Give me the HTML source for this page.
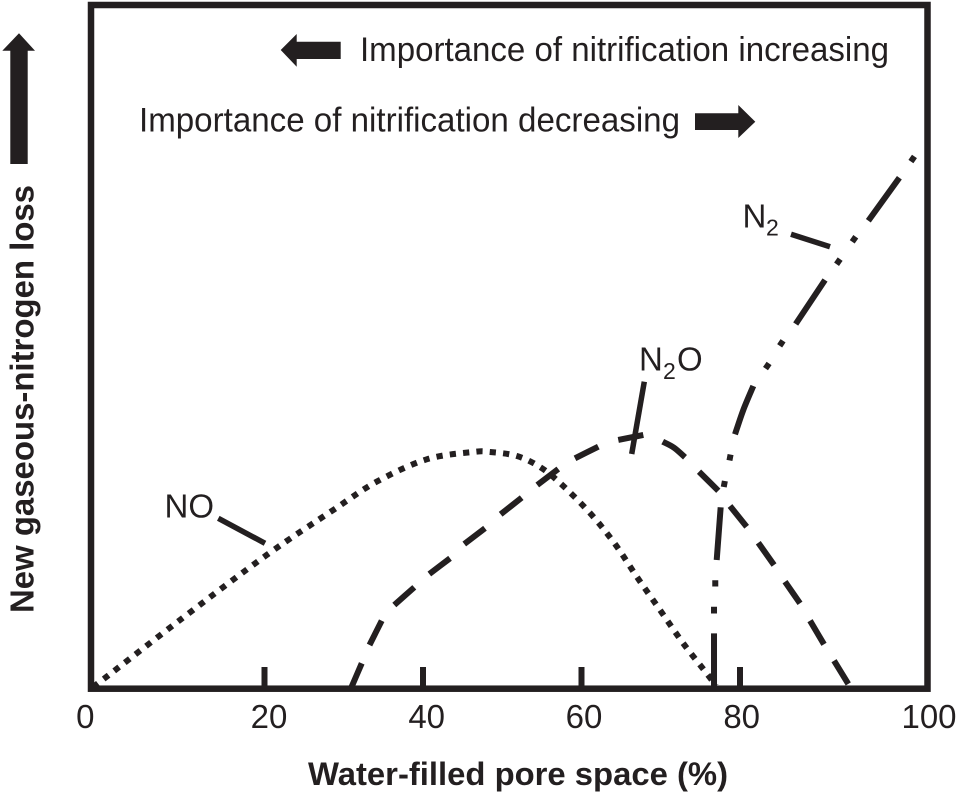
<!DOCTYPE html>
<html lang="en">
<head>
<meta charset="utf-8">
<title>Gaseous nitrogen loss vs water-filled pore space</title>
<style>
html,body{margin:0;padding:0;background:#fff;}
svg{display:block;}
text{font-family:"Liberation Sans",sans-serif;fill:#231f20;}
</style>
</head>
<body>
<svg id="chart" xmlns="http://www.w3.org/2000/svg" width="957" height="795" viewBox="0 0 957 795">
  <rect x="91" y="5" width="836.5" height="683.7" fill="none" stroke="#231f20" stroke-width="6.5"/>

  <g id="ticks"></g>
  <g id="tick-labels"></g>
  <g id="series"></g>

  <text x="308" y="785" font-size="32" font-weight="bold" textLength="420" lengthAdjust="spacingAndGlyphs">Water-filled pore space (%)</text>
  <text transform="translate(33.5,613) rotate(-90)" font-size="33" font-weight="bold" textLength="428" lengthAdjust="spacingAndGlyphs">New gaseous-nitrogen loss</text>
  <polygon points="19,33.3 35,50.7 27.7,50.7 27.7,164 10.3,164 10.3,50.7 2.3,50.7" fill="#231f20"/>

  <polygon points="280.7,50 296.7,34 296.7,41.7 340.7,41.7 340.7,59 296.7,59 296.7,66.7" fill="#231f20"/>
  <text x="360" y="61" font-size="34" textLength="529" lengthAdjust="spacingAndGlyphs">Importance of nitrification increasing</text>
  <text x="139" y="131.7" font-size="34" textLength="541" lengthAdjust="spacingAndGlyphs">Importance of nitrification decreasing</text>
  <polygon points="755.3,121.7 738.3,105 738.3,113.3 695,113.3 695,130 738.3,130 738.3,138" fill="#231f20"/>

  <text x="164.5" y="517.3" font-size="33">NO</text>
  <line x1="218.3" y1="518.3" x2="265" y2="543.3" stroke="#231f20" stroke-width="5.5"/>

  <text y="370.7" font-size="33"><tspan x="639">N</tspan><tspan x="663" y="379" font-size="23">2</tspan><tspan x="677" y="370.7">O</tspan></text>
  <line x1="644.3" y1="381.7" x2="631.7" y2="454" stroke="#231f20" stroke-width="5.5"/>

  <text y="227.7" font-size="33"><tspan x="742.5">N</tspan><tspan x="766" y="235.7" font-size="23">2</tspan></text>
  <line x1="791" y1="234.3" x2="830" y2="246.7" stroke="#231f20" stroke-width="5.5"/>
</svg>

<script>
// X axis
const tickValues = [20, 40, 60, 80];
const tickLabels = [0, 20, 40, 60, 80, 100];

// NO series (dotted curve): water-filled pore space %, relative loss
const noX = [0.23, 1.81, 10.26, 20.28, 28.68, 34.16, 40.47, 46.31, 48.45, 51.86, 54.76, 57.29, 61.07, 64.23, 67.0, 69.91, 72.81, 75.96, 76.97];
const noY = [0.25, 1.76, 10.05, 19.56, 26.14, 30.28, 33.55, 34.62, 34.62, 34.03, 32.43, 30.09, 25.7, 21.16, 16.34, 11.51, 6.68, 2.0, 0.4];

// N2O series (dashed curve): null marks a printed gap between dashes
const n2oX = [31.0, 32.27, null, 33.25, 34.79, null, 36.38, 38.9, null, 40.8, 43.41, null, 45.21, 47.82, null, 49.8, 52.45, null, 54.42, 57.07, null, 59.18, 62.12, null, 64.64, 67.8, null, 70.25, 71.67, 73.06, null, 74.83, 77.26, null, 78.74, 80.71, null, 81.95, 83.63, null, 84.8, 86.4, null, 87.47, 88.96, null, 90.03, 91.55];
const n2oY = [0.29, 3.72, null, 6.39, 9.95, null, 12.24, 14.83, null, 16.78, 19.07, null, 21.16, 23.46, null, 25.51, 27.94, null, 29.79, 32.13, null, 33.7, 35.4, null, 36.38, 37.11, null, 36.13, 35.25, 33.85, null, 31.74, 28.96, null, 26.72, 23.69, null, 21.35, 18.09, null, 15.65, 12.49, null, 9.95, 6.49, null, 4.1, 0.69];

// N2 series (dash-dot-dot curve): null marks a printed gap
const n2X = [76.72, 76.72, null, 76.72, 76.72, null, 76.88, 76.88, null, 77.06, 77.56, null, 77.95, 78.09, null, 78.67, 78.81, null, 79.37, 80.35, 81.42, null, 82.72, 83.1, null, 84.23, 84.59, null, 85.94, 89.07, null, 90.3, 90.68, null, 91.97, 92.35, null, 93.69, 97.0, null, 98.23, 98.61];
const n2Y = [0.29, 8.1, null, 11.0, 11.98, null, 14.95, 15.87, null, 18.82, 26.53, null, 29.5, 30.38, null, 33.38, 34.25, null, 37.21, 40.76, 44.27, null, 46.82, 47.57, null, 50.15, 50.89, null, 53.34, 59.78, null, 62.08, 62.83, null, 65.36, 66.1, null, 68.45, 74.74, null, 77.1, 77.85];

const SVG_NS = 'http://www.w3.org/2000/svg';

// The printed axis is not evenly spaced at its ends, so the scale is piecewise linear.
function xScale(v) {
  if (v <= 20) return 91 + (264.5 - 91) * v / 20;
  if (v <= 80) return 264.5 + (740 - 264.5) * (v - 20) / 60;
  return 740 + (927.5 - 740) * (v - 80) / 20;
}
function yScale(v) {
  return 688.7 - v * 6.837;
}
// Catmull-Rom smoothing within each unbroken run of points.
function smoothRun(pts) {
  let d = 'M' + pts[0][0].toFixed(2) + ' ' + pts[0][1].toFixed(2);
  for (let i = 0; i < pts.length - 1; i++) {
    const p0 = pts[Math.max(i - 1, 0)];
    const p1 = pts[i];
    const p2 = pts[i + 1];
    const p3 = pts[Math.min(i + 2, pts.length - 1)];
    const c1x = p1[0] + (p2[0] - p0[0]) / 6;
    const c1y = p1[1] + (p2[1] - p0[1]) / 6;
    const c2x = p2[0] - (p3[0] - p1[0]) / 6;
    const c2y = p2[1] - (p3[1] - p1[1]) / 6;
    d += 'C' + c1x.toFixed(2) + ' ' + c1y.toFixed(2) + ' ' + c2x.toFixed(2) + ' ' + c2y.toFixed(2) + ' ' + p2[0].toFixed(2) + ' ' + p2[1].toFixed(2);
  }
  return d;
}
function buildPath(xs, ys) {
  let d = '';
  let run = [];
  for (let i = 0; i <= xs.length; i++) {
    if (i === xs.length || xs[i] === null || ys[i] === null) {
      if (run.length > 1) d += smoothRun(run);
      run = [];
      continue;
    }
    run.push([xScale(xs[i]), yScale(ys[i])]);
  }
  return d;
}

const tickGroup = document.getElementById('ticks');
tickValues.forEach(function (v) {
  const tick = document.createElementNS(SVG_NS, 'line');
  
  
  tick.setAttribute('x1', xScale(v));
  tick.setAttribute('x2', xScale(v));
  tick.setAttribute('y1', yScale(0));
  tick.setAttribute('y2', 667);
  tick.setAttribute('stroke', '#231f20');
  tick.setAttribute('stroke-width', '6');
  tickGroup.appendChild(tick);
});

// Horizontal label shift, by label index, to follow the printed placement.
const labelShift = [-5.7, 4.5, 3.7, 2.5, 1.7, 1.5];
const labelGroup = document.getElementById('tick-labels');
tickLabels.forEach(function (v, i) {
  const label = document.createElementNS(SVG_NS, 'text');
  
  
  label.setAttribute('x', xScale(v) + labelShift[i]);
  label.setAttribute('y', 728);
  label.setAttribute('font-size', '33');
  label.setAttribute('text-anchor', 'middle');
  label.textContent = String(v);
  labelGroup.appendChild(label);
});

const seriesGroup = document.getElementById('series');

const noLine = document.createElementNS(SVG_NS, 'path');


noLine.setAttribute('d', buildPath(noX, noY));
noLine.setAttribute('fill', 'none');
noLine.setAttribute('stroke', '#231f20');
noLine.setAttribute('stroke-width', '6');
noLine.setAttribute('stroke-dasharray', '6.2 7.2');
seriesGroup.appendChild(noLine);

const n2oLine = document.createElementNS(SVG_NS, 'path');


n2oLine.setAttribute('d', buildPath(n2oX, n2oY));
n2oLine.setAttribute('fill', 'none');
n2oLine.setAttribute('stroke', '#231f20');
n2oLine.setAttribute('stroke-width', '6');
seriesGroup.appendChild(n2oLine);

const n2Line = document.createElementNS(SVG_NS, 'path');


n2Line.setAttribute('d', buildPath(n2X, n2Y));
n2Line.setAttribute('fill', 'none');
n2Line.setAttribute('stroke', '#231f20');
n2Line.setAttribute('stroke-width', '6');
seriesGroup.appendChild(n2Line);
</script>
</body>
</html>
